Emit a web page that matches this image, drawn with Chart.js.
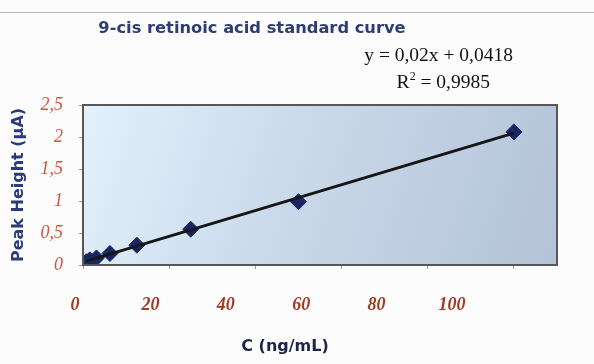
<!DOCTYPE html>
<html>
<head>
<meta charset="utf-8">
<script src="https://cdn.jsdelivr.net/npm/chart.js@4/dist/chart.umd.min.js"></script>
<style>
  html,body{margin:0;padding:0;background:#fcfcfd;}
  #wrap{position:relative;width:594px;height:364px;overflow:hidden;}
  canvas{position:absolute;left:0;top:0;}
  .txt{position:absolute;white-space:nowrap;}
  #topline{position:absolute;left:0;top:12px;width:594px;height:0;border-top:1px solid #b8b8b8;}
  #title{left:0;top:18px;width:504px;text-align:center;font:bold 16.3px "DejaVu Sans",Verdana,sans-serif;color:#2f3d73;}
  #eq1{right:81px;top:44px;font:19.5px "Liberation Serif","Times New Roman",serif;color:#111;}
  #eq2{right:104px;top:71px;font:19.5px "Liberation Serif","Times New Roman",serif;color:#111;}
  #xtitle{left:0;top:336px;width:570px;text-align:center;font:bold 16px "DejaVu Sans",Verdana,sans-serif;color:#1d2448;}
</style>
</head>
<body>
<div id="wrap">
  <div id="topline"></div>
  <canvas id="c" width="594" height="364"></canvas>
  <div class="txt" id="title">9-cis retinoic acid standard curve</div>
  <div class="txt" id="eq1">y = 0,02x + 0,0418</div>
  <div class="txt" id="eq2">R<sup style="font-size:12px;vertical-align:8px;line-height:0">2</sup> = 0,9985</div>
  <div class="txt" id="xtitle">C (ng/mL)</div>
</div>
<script>
// ---- data ----
const concentrations = [0.78, 1.56, 3.125, 6.25, 12.5, 25, 50, 100];
const peakHeights    = [0.05, 0.08, 0.11, 0.18, 0.31, 0.56, 0.99, 2.08];
const trendX = [0.78, 100];
const trendY = [0.06, 2.06];
const xTickValues = [0, 20, 40, 60, 80, 100];
const xTickLabels = ['0', '20', '40', '60', '80', '100'];
const yTickValues = [0, 0.5, 1, 1.5, 2, 2.5];
const yTickLabels = ['0', '0,5', '1', '1,5', '2', '2,5'];

const plotBg = {
  id: 'plotBg',
  beforeDraw(chart) {
    const {ctx, chartArea: a} = chart;
    const g = ctx.createLinearGradient(a.left, a.top, a.right, a.bottom);
    g.addColorStop(0, '#e2f1fb');
    g.addColorStop(0.45, '#c9d9ea');
    g.addColorStop(1, '#b3c2d6');
    ctx.save();
    ctx.fillStyle = g;
    ctx.fillRect(a.left, a.top, a.right - a.left, a.bottom - a.top);
    ctx.restore();
  },
  afterDraw(chart) {
    const {ctx, chartArea: a} = chart;
    ctx.save();
    ctx.strokeStyle = '#575757';
    ctx.lineWidth = 2;
    ctx.strokeRect(a.left, a.top, a.right - a.left, a.bottom - a.top);
    ctx.restore();
  }
};

const tickFont = '"Liberation Serif","Times New Roman",serif';

new Chart(document.getElementById('c'), {
  type: 'scatter',
  data: {
    datasets: [
      {
        label: 'trend',
        data: trendX.map((x, i) => ({x, y: trendY[i]})),
        showLine: true,
        borderColor: '#161616',
        borderWidth: 3,
        pointRadius: 0,
        order: 0
      },
      {
        label: 'standards',
        data: concentrations.map((x, i) => ({x, y: peakHeights[i]})),
        pointStyle: 'rectRot',
        pointRadius: 8,
        backgroundColor: '#1a2662',
        borderColor: '#1a2662',
        borderWidth: 1,
        order: 1
      }
    ]
  },
  options: {
    responsive: false,
    animation: false,
    events: [],
    layout: {padding: {top: 105, right: 37, left: 0, bottom: 0}},
    plugins: {legend: {display: false}, tooltip: {enabled: false}, title: {display: false}},
    scales: {
      x: {
        type: 'linear',
        position: 'bottom',
        weight: 0,
        min: 0, max: 110,
        afterFit(s) { s.height = 6; },
        afterBuildTicks(s) { s.ticks = xTickValues.map(v => ({value: v})); },
        grid: {drawOnChartArea: false, drawTicks: true, tickLength: 4, color: '#9a9a9a'},
        border: {display: false},
        ticks: {display: false}
      },
      // label row of the x axis (printed slightly offset in the scanned original)
      xLabels: {
        type: 'linear',
        position: 'bottom',
        weight: 1,
        min: 2.1, max: 127.9,
        afterFit(s) { s.height = 93; },
        afterBuildTicks(s) { s.ticks = xTickValues.map(v => ({value: v})); },
        grid: {display: false},
        border: {display: false},
        ticks: {
          autoSkip: false, maxRotation: 0, padding: 16,
          color: '#9f3d24',
          font: {family: tickFont, size: 18, style: 'italic', weight: 'bold'},
          callback: (v, i) => xTickLabels[i]
        }
      },
      y: {
        type: 'linear',
        min: 0, max: 2.5,
        afterFit(s) { s.width = 83; },
        afterBuildTicks(s) { s.ticks = yTickValues.map(v => ({value: v})); },
        grid: {drawOnChartArea: false, drawTicks: true, tickLength: 4, color: '#9a9a9a'},
        border: {display: false},
        ticks: {
          padding: 16,
          color: '#c9573f',
          font: {family: tickFont, size: 18, style: 'italic'},
          callback: (v, i) => yTickLabels[i]
        },
        title: {
          display: true,
          text: 'Peak Height (µA)',
          color: '#2b3a78',
          padding: {top: 9, bottom: 0},
          font: {family: '"DejaVu Sans",Verdana,sans-serif', size: 16, weight: 'bold'}
        }
      }
    }
  },
  plugins: [plotBg]
});
</script>
</body>
</html>
